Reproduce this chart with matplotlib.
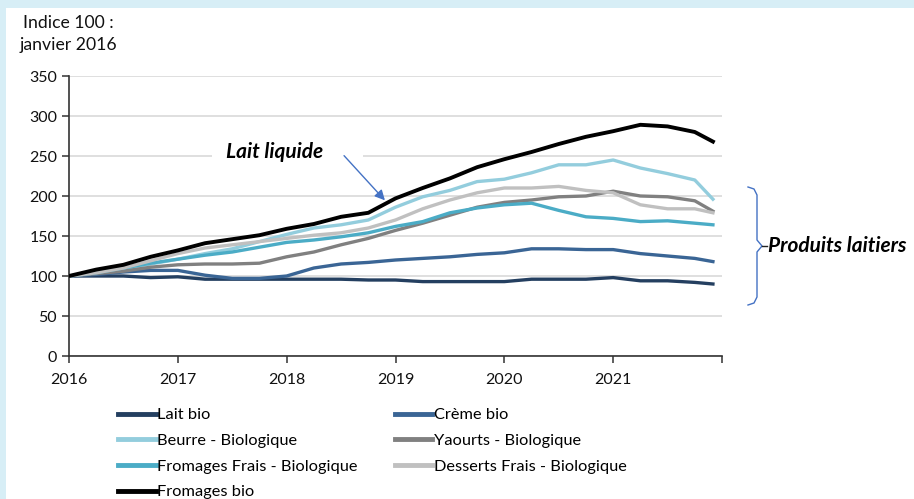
import matplotlib
matplotlib.use("Agg")
import matplotlib.pyplot as plt
from matplotlib.patches import Rectangle
from matplotlib.lines import Line2D

plt.rcParams['font.family'] = ['Lato', 'DejaVu Sans']

# dates (year, month) of the readings
dates = [(2016, 1), (2016, 4), (2016, 7), (2016, 10),
         (2017, 1), (2017, 4), (2017, 7), (2017, 10),
         (2018, 1), (2018, 4), (2018, 7), (2018, 10),
         (2019, 1), (2019, 4), (2019, 7), (2019, 10),
         (2020, 1), (2020, 4), (2020, 7), (2020, 10),
         (2021, 1), (2021, 4), (2021, 7), (2021, 10), (2021, 12)]

lait_bio = [100, 100, 100, 98, 99, 96, 96, 96, 96, 96, 96, 95, 95, 93, 93, 93,
            93, 96, 96, 96, 98, 94, 94, 92, 90]
creme_bio = [100, 102, 105, 107, 107, 101, 97, 97, 100, 110, 115, 117, 120, 122, 124, 127,
             129, 134, 134, 133, 133, 128, 125, 122, 118]
beurre = [100, 104, 109, 115, 121, 128, 134, 143, 152, 160, 164, 170, 186, 199, 207, 218,
          221, 229, 239, 239, 245, 235, 228, 220, 196]
yaourts = [100, 103, 106, 111, 114, 115, 115, 116, 124, 130, 139, 147, 157, 166, 176, 186,
           192, 195, 199, 200, 206, 200, 199, 194, 181]
fromages_frais = [100, 104, 110, 116, 121, 126, 130, 136, 142, 145, 149, 154, 162, 168, 179, 185,
                  189, 191, 182, 174, 172, 168, 169, 166, 164]
desserts = [100, 104, 110, 119, 128, 135, 139, 143, 147, 151, 154, 160, 170, 184, 195, 204,
            210, 210, 212, 207, 204, 189, 184, 184, 179]
fromages_bio = [100, 108, 114, 124, 132, 141, 146, 151, 159, 165, 174, 179, 197, 210, 222, 236,
                246, 255, 265, 274, 281, 289, 287, 280, 268]

year_ticks = [2016, 2017, 2018, 2019, 2020, 2021, 2022]
year_labels = ['2016', '2017', '2018', '2019', '2020', '2021', '']

x = [y + (m - 1) / 12 for y, m in dates]

W, H = 914, 499
fig = plt.figure(figsize=(W / 100, H / 100), dpi=100)
fig.patch.set_facecolor('white')
# light blue frame on top and left
for r in [(0, 1 - 8 / H, 1, 8 / H), (0, 0, 6 / W, 1)]:
    fig.patches.append(Rectangle(r[:2], r[2], r[3], transform=fig.transFigure,
                                 facecolor='#d7eef6', edgecolor='none', zorder=-10))

ax = fig.add_axes([69 / W, 1 - 356 / H, (722 - 69) / W, (356 - 76) / H])
ax.set_facecolor('white')

series = [
    ('Lait bio', lait_bio, '#243f60'),
    ('Crème bio', creme_bio, '#3a6595'),
    ('Beurre - Biologique', beurre, '#93cddd'),
    ('Yaourts - Biologique', yaourts, '#808080'),
    ('Fromages Frais - Biologique', fromages_frais, '#4bacc6'),
    ('Desserts Frais - Biologique', desserts, '#c0c0c0'),
    ('Fromages bio', fromages_bio, '#000000'),
]
handles = {}
for name, vals, col in series:
    lw = 2.8 if name == 'Fromages bio' else 2.4
    h, = ax.plot(x, vals, color=col, linewidth=lw, label=name, solid_joinstyle='round', zorder=3)
    handles[name] = h

ax.set_xlim(2016, 2022)
ax.set_ylim(0, 350)
ax.set_yticks(range(0, 351, 50))
ax.set_xticks(year_ticks)
ax.set_xticklabels(year_labels)
ax.grid(axis='y', color='#d9d9d9', linewidth=1.2)
ax.set_axisbelow(True)
for s in ['top', 'right']:
    ax.spines[s].set_visible(False)
for s in ['left', 'bottom']:
    ax.spines[s].set_color('#333333')
    ax.spines[s].set_linewidth(1.2)
ax.tick_params(axis='both', direction='out', length=5, width=1.1, color='#333333',
               labelsize=11.5, labelcolor='#111111')
ax.tick_params(axis='x', pad=7)

# annotation "Lait liquide"
ax.add_patch(Rectangle((2017.31, 244), 1.39, 20, facecolor='white', edgecolor='none', zorder=2))
ax.text(2017.89, 255, 'Lait liquide', fontsize=15, fontweight='bold', fontstyle='italic',
        ha='center', va='center', zorder=4)
ax.annotate('', xy=(2018.92, 192), xytext=(2018.51, 253),
            arrowprops=dict(arrowstyle='-|>', color='#4472c4', lw=1, mutation_scale=15), zorder=4)

# bracket "Produits laitiers"
def px(xp, yp):
    return xp / W, 1 - yp / H

bx = [748, 754, 757, 757, 762, 757, 757, 754, 748]
by = [187, 189, 195, 240, 246, 252, 297, 303, 305]
pts = [px(a, b) for a, b in zip(bx, by)]
fig.lines.append(Line2D([p[0] for p in pts], [p[1] for p in pts], transform=fig.transFigure,
                        color='#4472c4', linewidth=1))
fig.lines.append(Line2D([762 / W, 767 / W], [1 - 246 / H] * 2, transform=fig.transFigure,
                        color='#222222', linewidth=1))
fig.text(768 / W, 1 - 246 / H, 'Produits laitiers', fontsize=15, fontweight='bold',
         fontstyle='italic', ha='left', va='center')

# title
fig.text(68 / W, 1 - 34 / H, 'Indice 100 :\njanvier 2016', fontsize=12.7, ha='center',
         va='center', multialignment='center', linespacing=1.4, color='#111111')

# legend, filled column by column
order = ['Lait bio', 'Beurre - Biologique', 'Fromages Frais - Biologique', 'Fromages bio',
         'Crème bio', 'Yaourts - Biologique', 'Desserts Frais - Biologique']
leg_handles = [Line2D([], [], color=handles[n].get_color(), linewidth=3.5) for n in order]
fig.legend(leg_handles, order, loc='upper left', bbox_to_anchor=(118 / W, 1 - 408 / H),
           ncol=2, frameon=False, fontsize=11.8, handlelength=2.3, handletextpad=0.1,
           columnspacing=2.25, labelspacing=0.68, borderaxespad=0, borderpad=0)

fig.savefig('out.png', dpi=100, facecolor=fig.get_facecolor())
